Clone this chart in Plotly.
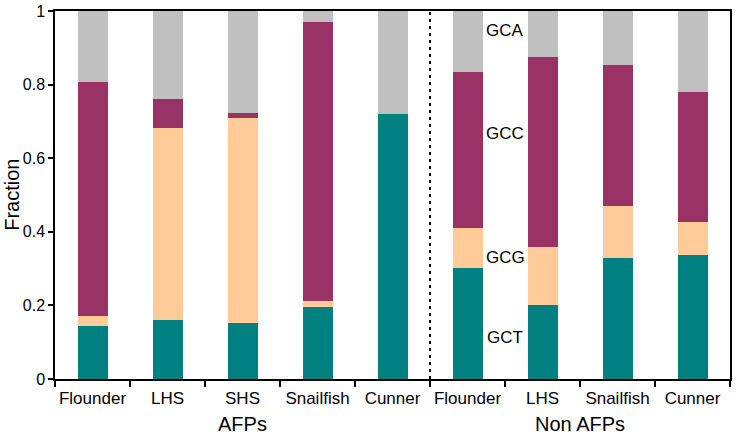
import plotly.graph_objects as go

afp_names = ["Flounder", "LHS", "SHS", "Snailfish", "Cunner"]
non_afp_names = ["Flounder", "LHS", "Snailfish", "Cunner"]
tick_labels = afp_names + non_afp_names
group_labels = ["AFPs", "Non AFPs"]

gct = [0.145, 0.160, 0.153, 0.197, 0.720, 0.302, 0.200, 0.329, 0.337]
gcg = [0.025, 0.521, 0.556, 0.014, 0.000, 0.108, 0.159, 0.142, 0.090]
gcc = [0.636, 0.080, 0.014, 0.759, 0.000, 0.425, 0.517, 0.382, 0.353]
gca = [round(1 - a - b - c, 3) for a, b, c in zip(gct, gcg, gcc)]

series_names = ["GCT", "GCG", "GCC", "GCA"]
series_values = [gct, gcg, gcc, gca]
series_colors = ["#008080", "#FFCC99", "#993366", "#C0C0C0"]

label_y = [0.114, 0.329, 0.668, 0.946]

x = list(range(len(tick_labels)))

fig = go.Figure()
for name, vals, col in zip(series_names, series_values, series_colors):
    fig.add_trace(go.Bar(x=x, y=vals, name=name, marker=dict(color=col, line=dict(width=0)),
                         width=0.4, showlegend=False))

n_afp = len(afp_names)
label_x = n_afp + 0.5
for name, yv in zip(series_names, label_y):
    fig.add_annotation(x=label_x, y=yv, text=name, showarrow=False,
                       font=dict(size=17, color="black"), xanchor="center", yanchor="middle")

group_centers = [(n_afp - 1) / 2, n_afp + (len(non_afp_names) - 1) / 2]
for g, cx in zip(group_labels, group_centers):
    fig.add_annotation(x=cx, y=-0.122, yref="paper", text=g, showarrow=False,
                       font=dict(size=20, color="black"), xanchor="center", yanchor="middle")

fig.add_annotation(x=-0.064, y=0.5, xref="paper", yref="paper", text="Fraction", textangle=-90,
                   showarrow=False, font=dict(size=20, color="black"),
                   xanchor="center", yanchor="middle")

fig.add_shape(type="line", x0=n_afp - 0.5, x1=n_afp - 0.5, y0=0, y1=1, yref="paper",
              line=dict(color="black", width=2, dash="3px,4px"))

fig.update_layout(
    barmode="stack",
    width=735, height=436,
    margin=dict(l=55, r=5, t=11, b=57),
    plot_bgcolor="white", paper_bgcolor="white",
    font=dict(family="Liberation Sans, Arial, sans-serif", color="black"),
)
fig.update_xaxes(
    automargin=False,
    range=[-0.5, len(x) - 0.5],
    tickvals=x, ticktext=tick_labels, ticks="", tickfont=dict(size=17),
    ticklabelstandoff=3,
    showline=True, linecolor="black", linewidth=1.5, mirror=True,
    showgrid=False, zeroline=False,
    minor=dict(tickvals=[i - 0.5 for i in range(len(x) + 1)], ticks="outside", ticklen=6,
               tickwidth=1.5, tickcolor="black", showgrid=False),
)
fig.update_yaxes(
    automargin=False,
    range=[0, 1], tickvals=[0, 0.2, 0.4, 0.6, 0.8, 1], ticktext=["0", "0.2", "0.4", "0.6", "0.8", "1"],
    ticks="outside", ticklen=5, tickwidth=1.5, tickcolor="black", tickfont=dict(size=16),
    showline=True, linecolor="black", linewidth=1.5, mirror=True,
    showgrid=False, zeroline=False,
)

fig.write_html("out.html", config={"displayModeBar": False},
               post_script="document.body.style.margin='0';document.body.style.overflow='hidden';")
